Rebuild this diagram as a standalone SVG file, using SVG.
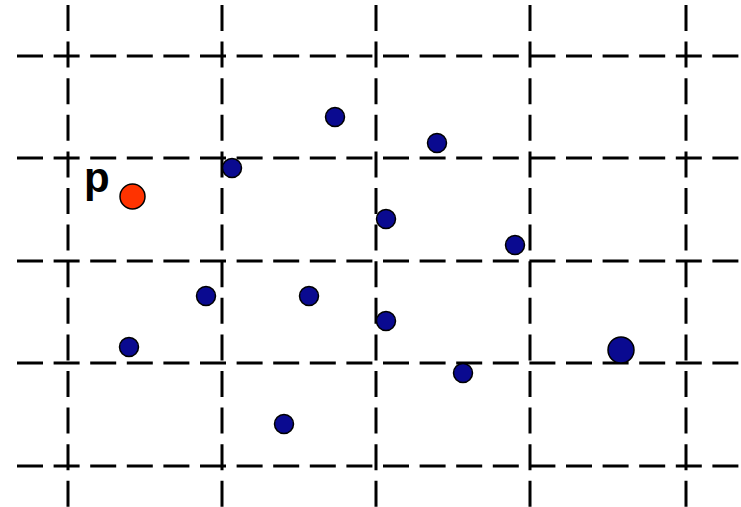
<svg xmlns="http://www.w3.org/2000/svg" width="741" height="507" viewBox="0 0 741 507">
<style>
.g{stroke:#000;stroke-width:3;stroke-dasharray:26 10.6;fill:none}
.b{fill:#0A0A90;stroke:#000;stroke-width:1.5}
.r{fill:#FF3300;stroke:#000;stroke-width:1.5}
.t{font-family:"Liberation Sans",Arial,sans-serif;font-weight:bold;font-size:42px;fill:#000}
</style>
<rect width="741" height="507" fill="#fff"/>
<g id="grid">
<line class="g" x1="17" y1="56" x2="741" y2="56"/>
<line class="g" x1="17" y1="158" x2="741" y2="158"/>
<line class="g" x1="17" y1="261" x2="741" y2="261"/>
<line class="g" x1="17" y1="363" x2="741" y2="363"/>
<line class="g" x1="17" y1="466" x2="741" y2="466"/>
<line class="g" x1="68" y1="5" x2="68" y2="507"/>
<line class="g" x1="222" y1="5" x2="222" y2="507"/>
<line class="g" x1="376" y1="5" x2="376" y2="507"/>
<line class="g" x1="530" y1="5" x2="530" y2="507"/>
<line class="g" x1="686" y1="5" x2="686" y2="507"/>
</g>
<g id="p"><text class="t" x="84" y="192">p</text><circle class="r" cx="132.5" cy="196.5" r="12.5"/></g>
<g id="points">
<circle class="b" cx="335" cy="117" r="9.5"/>
<circle class="b" cx="437" cy="143" r="9.5"/>
<circle class="b" cx="232" cy="168" r="9.5"/>
<circle class="b" cx="386" cy="219" r="9.5"/>
<circle class="b" cx="515" cy="245" r="9.5"/>
<circle class="b" cx="206" cy="296" r="9.5"/>
<circle class="b" cx="309" cy="296" r="9.5"/>
<circle class="b" cx="386" cy="321" r="9.5"/>
<circle class="b" cx="129" cy="347" r="9.5"/>
<circle class="b" cx="463" cy="373" r="9.5"/>
<circle class="b" cx="284" cy="424" r="9.5"/>
<circle class="b" cx="621" cy="350" r="13"/>
</g>
</svg>
